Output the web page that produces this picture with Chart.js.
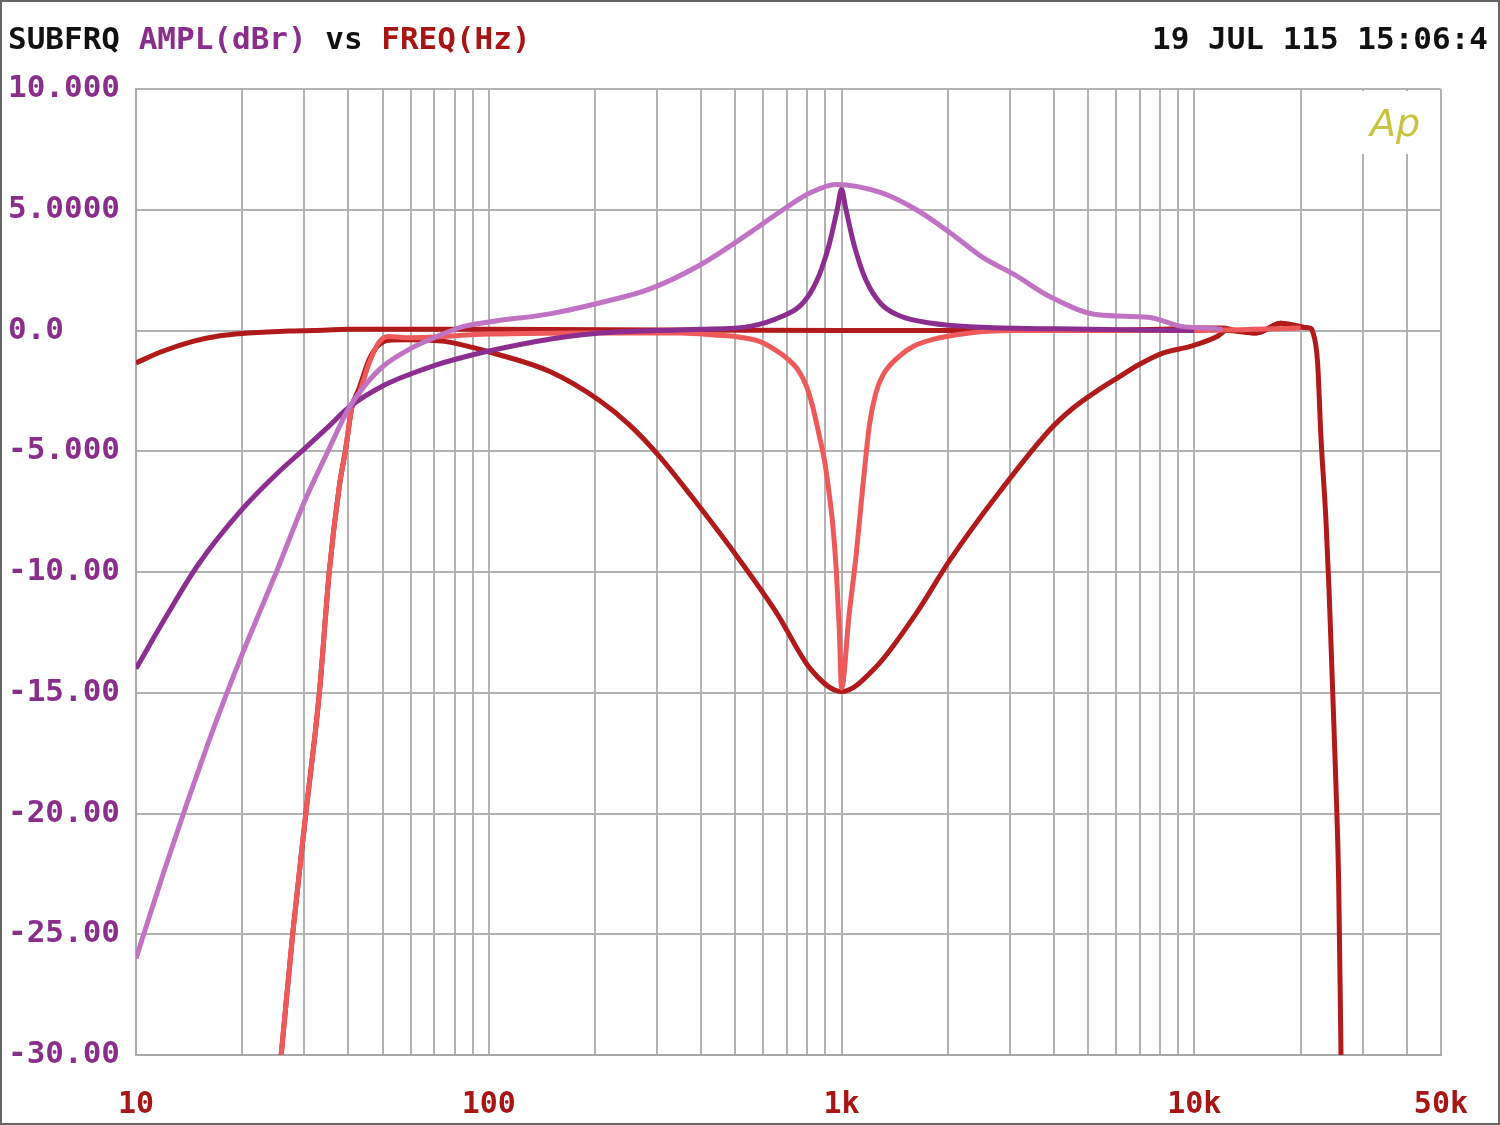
<!DOCTYPE html>
<html>
<head>
<meta charset="utf-8">
<script src="https://cdn.jsdelivr.net/npm/chart.js@4/dist/chart.umd.min.js"></script>
<style>
  html, body { margin: 0; padding: 0; background: #fff; }
  canvas { display: block; }
</style>
</head>
<body>
<canvas id="chart" width="1500" height="1125"></canvas>
<script>
// axis ticks
const yTickValues = [10, 5, 0, -5, -10, -15, -20, -25, -30];
const yTickText = ['10.000', '5.0000', '0.0', '-5.000', '-10.00', '-15.00', '-20.00', '-25.00', '-30.00'];
const xLabelHz = [10, 100, 1000, 10000, 50000];
const xLabelText = ['10', '100', '1k', '10k', '50k'];

// flat response (dark red), incl. top-end rolloff
const flatHz = [10, 11.9, 14.5, 17.3, 20, 22.9, 27, 32, 40, 100, 1000, 5000, 8000, 10000, 12000, 13100, 15000, 17600, 19000, 21300, 21600, 22350, 22850, 23600, 24100, 24650, 25200, 25650, 26050];
const flatDb = [-1.34, -0.86, -0.45, -0.22, -0.12, -0.07, -0.02, 0, 0.05, 0.05, 0, 0, 0.05, 0.1, 0.1, 0, -0.1, 0.3, 0.15, 0.1, 0, -1.3, -4.4, -7.8, -10.8, -14.8, -18.8, -22.8, -30];

// wide cut at 1k (dark red)
const wideCutHz = [25.8, 27.8, 30.3, 33.1, 35.3, 37.7, 39.3, 40.9, 42.9, 45.8, 48.8, 52, 60, 75, 90, 101, 149, 206, 250, 304, 396, 514, 655, 815, 1000, 1240, 1630, 2030, 2800, 3900, 4500, 5300, 6000, 7000, 8100, 9800, 11600, 12300, 15000, 17600, 21000];
const wideCutDb = [-30, -25, -20, -15, -10, -6.45, -4.9, -3.2, -2.4, -1.2, -0.6, -0.4, -0.38, -0.45, -0.7, -0.9, -1.7, -2.9, -3.9, -5.2, -7.3, -9.5, -11.7, -14.0, -14.95, -14.0, -11.7, -9.5, -6.7, -4.1, -3.25, -2.5, -2.0, -1.4, -0.95, -0.65, -0.25, 0, -0.1, 0.3, 0.1];

// narrow cut at 1k (salmon)
const narrowCutHz = [25.8, 27.8, 30.3, 33.1, 35.3, 37.7, 39.3, 40.9, 42.9, 45.8, 48.8, 51.9, 60, 100, 200, 350, 450, 500, 585, 640, 700, 750, 795, 830, 863, 895, 925, 945, 966, 985, 1000, 1050, 1100, 1150, 1200, 1250, 1310, 1460, 1600, 1814, 2250, 3000, 10000, 20000];
const narrowCutDb = [-30, -25, -20, -15, -10, -6.45, -4.9, -3.2, -2.6, -1.35, -0.5, -0.25, -0.3, -0.15, -0.1, -0.1, -0.2, -0.25, -0.45, -0.75, -1.15, -1.6, -2.3, -3.2, -4.3, -5.4, -6.9, -8.1, -9.9, -12.3, -14.8, -11.8, -9.3, -6.4, -3.9, -2.6, -1.85, -1.06, -0.65, -0.37, -0.12, 0, 0, 0.1];

// wide boost at 1k (light purple)
const wideBoostHz = [10, 12, 14, 16, 18, 20, 22.5, 25, 30, 35, 40, 45, 50, 60, 70, 84, 100, 150, 207, 284, 396, 550, 682, 815, 965, 1300, 1630, 2030, 2500, 3100, 3900, 5330, 7400, 9200, 11000, 12000];
const wideBoostDb = [-26, -22.4, -19.5, -17.1, -15.1, -13.4, -11.6, -10.0, -7.1, -5.0, -3.25, -2.2, -1.5, -0.75, -0.3, 0.15, 0.35, 0.7, 1.15, 1.7, 2.7, 4.05, 5.0, 5.7, 6.05, 5.7, 5.0, 4.05, 3.05, 2.3, 1.4, 0.65, 0.55, 0.17, 0.1, 0.05];

// narrow boost at 1k (dark purple)
const narrowBoostHz = [10, 12, 15, 20, 25, 30, 35, 40, 50, 60, 70, 80, 100, 150, 200, 300, 396, 550, 682, 760, 815, 850, 880, 920, 950, 975, 1000, 1026, 1053, 1087, 1136, 1176, 1227, 1316, 1466, 1800, 2250, 5000, 10000];
const narrowBoostDb = [-14.0, -12.0, -9.7, -7.4, -5.95, -4.9, -4.0, -3.2, -2.3, -1.8, -1.45, -1.2, -0.85, -0.35, -0.12, 0, 0.05, 0.17, 0.6, 1.0, 1.55, 2.05, 2.6, 3.5, 4.35, 5.1, 5.85, 5.1, 4.35, 3.5, 2.6, 2.05, 1.55, 1.0, 0.6, 0.3, 0.17, 0.05, 0];

// grid lines 10..90, 100..900, ... up to 50k
const xGridHz = [];
for (let d = 10; d <= 10000; d *= 10) {
    for (let m = 1; m <= 9; m++) {
        if (d * m <= 50000) xGridHz.push(d * m);
    }
}

function pts(hz, db) {
    return hz.map((f, i) => ({ x: f, y: db[i] }));
}

const MONO = '"DejaVu Sans Mono", "Liberation Mono", monospace';
const PURPLE = '#8a2e8c';
const RED = '#a81515';

const decor = {
    id: 'decor',
    beforeDatasetsDraw(chart) {
        // logo area: short grid lines stop below the "Ap" mark
        const ctx = chart.ctx;
        ctx.save();
        ctx.fillStyle = '#fff';
        ctx.fillRect(1352, 91, 76, 63);
        ctx.restore();
    },
    afterDraw(chart) {
        const ctx = chart.ctx;
        ctx.save();
        ctx.font = 'bold 31px ' + MONO;
        ctx.textBaseline = 'alphabetic';
        ctx.textAlign = 'left';
        let x = 8;
        const parts = [['SUBFRQ ', '#111'], ['AMPL(dBr) ', PURPLE], ['vs ', '#111'], ['FREQ(Hz)', RED]];
        parts.forEach(([t, c]) => {
            ctx.fillStyle = c;
            ctx.fillText(t, x, 49);
            x += ctx.measureText(t).width;
        });
        ctx.fillStyle = '#111';
        ctx.textAlign = 'right';
        ctx.fillText('19 JUL 115 15:06:4', 1488, 49);

        ctx.font = 'italic 38px "DejaVu Sans", sans-serif';
        ctx.fillStyle = '#c9c23c';
        ctx.textAlign = 'left';
        ctx.fillText('Ap', 1370, 136);

        ctx.strokeStyle = '#666';
        ctx.lineWidth = 2;
        ctx.strokeRect(1, 1, 1498, 1123);
        ctx.restore();
    }
};

new Chart(document.getElementById('chart'), {
    type: 'line',
    data: {
        datasets: [
            { label: 'wide boost', data: pts(wideBoostHz, wideBoostDb), borderColor: '#c173c3' },
            { label: 'narrow boost', data: pts(narrowBoostHz, narrowBoostDb), borderColor: '#8c2e90' },
            { label: 'narrow cut', data: pts(narrowCutHz, narrowCutDb), borderColor: '#ee5a5a' },
            { label: 'wide cut', data: pts(wideCutHz, wideCutDb), borderColor: '#b01a1a' },
            { label: 'flat', data: pts(flatHz, flatDb), borderColor: '#b01a1a' }
        ]
    },
    options: {
        responsive: false,
        animation: false,
        layout: { padding: { top: 89, right: 59, left: 8, bottom: 0 } },
        elements: {
            point: { radius: 0 },
            line: { borderWidth: 5, cubicInterpolationMode: 'monotone', fill: false }
        },
        plugins: {
            legend: { display: false },
            title: { display: false },
            tooltip: { enabled: false }
        },
        scales: {
            x: {
                type: 'logarithmic',
                min: 10,
                max: 50000,
                afterBuildTicks(scale) {
                    scale.ticks = xGridHz.map(v => ({ value: v }));
                },
                afterFit(scale) { scale.height = 70; },
                grid: { color: '#b2b2b2', lineWidth: 2, drawTicks: false },
                border: { color: '#a8a8a8', width: 2 },
                ticks: {
                    autoSkip: false,
                    maxRotation: 0,
                    padding: 32,
                    color: RED,
                    font: { family: MONO, size: 30, weight: 'bold' },
                    callback(value) {
                        const i = xLabelHz.indexOf(value);
                        return i >= 0 ? xLabelText[i] : '';
                    }
                }
            },
            y: {
                min: -30,
                max: 10,
                afterBuildTicks(scale) {
                    scale.ticks = yTickValues.map(v => ({ value: v }));
                },
                afterFit(scale) { scale.width = 128; },
                grid: { color: '#b2b2b2', lineWidth: 2, drawTicks: false },
                border: { color: '#a8a8a8', width: 2 },
                ticks: {
                    crossAlign: 'far',
                    padding: 0,
                    color: PURPLE,
                    font: { family: MONO, size: 31, weight: 'bold' },
                    callback(value) {
                        const i = yTickValues.indexOf(value);
                        return i >= 0 ? yTickText[i] : '';
                    }
                }
            }
        }
    },
    plugins: [decor]
});
</script>
</body>
</html>
